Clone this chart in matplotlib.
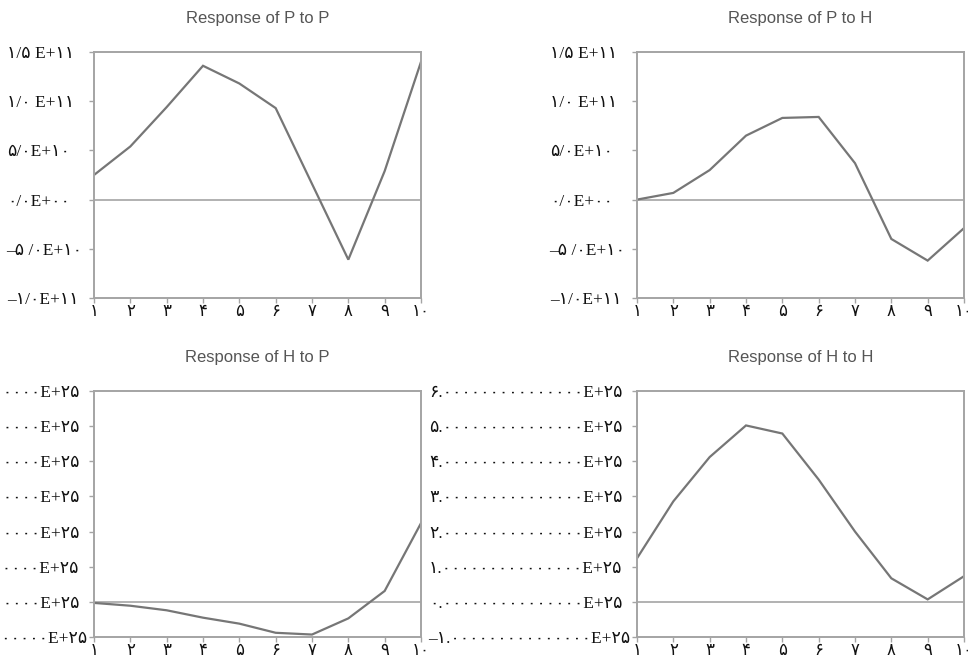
import matplotlib
matplotlib.use("Agg")
import matplotlib.pyplot as plt

# ---------------- data ----------------
periods = [1, 2, 3, 4, 5, 6, 7, 8, 9, 10]
x_ticklabels = ["۱", "۲", "۳", "۴", "۵", "۶", "۷", "۸", "۹", "۱۰"]

resp_p_to_p = [2.5e10, 5.4e10, 9.4e10, 1.36e11, 1.18e11, 9.3e10, 1.6e10, -6.1e10, 2.9e10, 1.4e11]
resp_p_to_h = [0.0, 6.8e9, 3.0e10, 6.5e10, 8.3e10, 8.4e10, 3.7e10, -4.0e10, -6.2e10, -2.9e10]
resp_h_to_p = [-0.03e25, -0.11e25, -0.24e25, -0.45e25, -0.62e25, -0.88e25, -0.93e25, -0.47e25, 0.31e25, 2.24e25]
resp_h_to_h = [1.24e25, 2.86e25, 4.12e25, 5.02e25, 4.79e25, 3.48e25, 2.0e25, 0.67e25, 0.07e25, 0.73e25]

top_yticks = [-1.0e11, -5.0e10, 0.0, 5.0e10, 1.0e11, 1.5e11]
top_yticklabels = ["–۱/۰E+۱۱", "–۵ /۰E+۱۰", "۰/۰E+۰۰", "۵/۰E+۱۰", "۱/۰ E+۱۱", "۱/۵ E+۱۱"]

bottom_yticks = [-1e25, 0, 1e25, 2e25, 3e25, 4e25, 5e25, 6e25]
_zeros = "۰" * 15
bottom_yticklabels = ["–۱." + _zeros + "E+۲۵", "۰." + _zeros + "E+۲۵", "۱." + _zeros + "E+۲۵",
                      "۲." + _zeros + "E+۲۵", "۳." + _zeros + "E+۲۵", "۴." + _zeros + "E+۲۵",
                      "۵." + _zeros + "E+۲۵", "۶." + _zeros + "E+۲۵"]

titles = ["Response of P to P", "Response of P to H", "Response of H to P", "Response of H to H"]

# ---------------- style ----------------
LINE = "#767676"
FRAME = "#a4a4a4"
TITLE = "#555555"
LABEL_FONT = ["Liberation Serif", "DejaVu Sans"]
top_label_pads = [7.5, 5.3, 14, 14, 11, 11]
bottom_label_pads = [1, 7, 7, 7, 7, 7, 7, 7]

fig = plt.figure(figsize=(9.68, 6.58), dpi=100)

W, H = 968.0, 658.0
def rect(l, t, r, b):
    return [l / W, 1 - b / H, (r - l) / W, (b - t) / H]

axes_rects = [rect(94, 52, 421, 298), rect(637, 52, 964, 298),
              rect(94, 391, 421, 637), rect(637, 391, 964, 637)]
series = [resp_p_to_p, resp_p_to_h, resp_h_to_p, resp_h_to_h]

for i, (r, ys, title) in enumerate(zip(axes_rects, series, titles)):
    ax = fig.add_axes(r)
    ax.plot(periods, ys, color=LINE, lw=1.6, solid_joinstyle="miter")
    ax.axhline(0, color=FRAME, lw=1.2, zorder=1)
    ax.set_xlim(1, 10)
    ax.set_xticks(periods)
    ax.set_xticklabels(x_ticklabels, family=LABEL_FONT, fontsize=12, color="#111111")
    for s in ax.spines.values():
        s.set_color(FRAME)
        s.set_linewidth(1.4)
    ax.tick_params(axis="both", direction="out", length=3.5, width=1, color=FRAME)
    ax.tick_params(axis="x", pad=1)
    if i < 2:
        ax.set_ylim(-1.0e11, 1.5e11)
        ax.set_yticks(top_yticks)
        ax.set_yticklabels(top_yticklabels, family=LABEL_FONT, fontsize=12.5, color="#111111")
        pads = top_label_pads
    else:
        ax.set_ylim(-1e25, 6e25)
        ax.set_yticks(bottom_yticks)
        ax.set_yticklabels(bottom_yticklabels, family=LABEL_FONT, fontsize=12.5, color="#111111")
        pads = bottom_label_pads
    for tick, p in zip(ax.yaxis.get_major_ticks(), pads):
        tick.set_pad(p)
    ax.set_title(title, fontsize=12, color=TITLE, family=["Liberation Sans", "DejaVu Sans"], pad=21)

fig.savefig("out.png", dpi=100)
